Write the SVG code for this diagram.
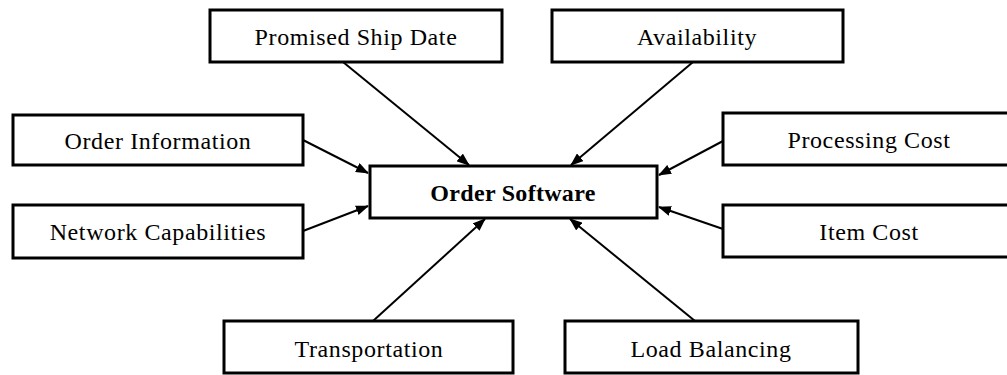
<svg xmlns="http://www.w3.org/2000/svg" width="1007" height="375" viewBox="0 0 1007 375">
<style>
.box{fill:#fff;stroke:#000;stroke-width:3}
.lbl{font-family:"Liberation Serif","Times New Roman",serif;font-size:24px;fill:#000;text-anchor:middle;letter-spacing:0.6px}
.bold{font-weight:bold;letter-spacing:0.3px}
.conn{stroke:#000;stroke-width:2;fill:none;marker-end:url(#ah)}
</style>
<defs>
<marker id="ah" markerUnits="userSpaceOnUse" markerWidth="13" markerHeight="10" refX="12" refY="5" orient="auto">
<path d="M0,0 L13,5 L0,10 z" fill="#000"/>
</marker>
</defs>
<rect width="1007" height="375" fill="#fff"/>
<g id="connectors">
<line class="conn" x1="343" y1="62" x2="469" y2="165"/>
<line class="conn" x1="693" y1="62" x2="571" y2="165"/>
<line class="conn" x1="303" y1="140" x2="368" y2="173"/>
<line class="conn" x1="303" y1="231" x2="368" y2="206"/>
<line class="conn" x1="723" y1="141" x2="659" y2="175"/>
<line class="conn" x1="723" y1="229" x2="659" y2="207"/>
<line class="conn" x1="373" y1="321" x2="485" y2="219"/>
<line class="conn" x1="695" y1="321" x2="570" y2="219"/>
</g>
<g id="promised-ship-date"><rect class="box" x="210" y="10" width="292" height="52"/><text class="lbl" x="356" y="45">Promised Ship Date</text></g>
<g id="availability"><rect class="box" x="552" y="10" width="291" height="52"/><text class="lbl" x="697" y="45">Availability</text></g>
<g id="order-information"><rect class="box" x="13" y="115" width="290" height="50"/><text class="lbl" x="158" y="149">Order Information</text></g>
<g id="network-capabilities"><rect class="box" x="13" y="205" width="290" height="53"/><text class="lbl" x="158" y="240">Network Capabilities</text></g>
<g id="order-software"><rect class="box" x="370" y="166" width="287" height="52"/><text class="lbl bold" x="513" y="201">Order Software</text></g>
<g id="processing-cost"><rect class="box" x="723" y="113" width="300" height="52"/><text class="lbl" x="869" y="148">Processing Cost</text></g>
<g id="item-cost"><rect class="box" x="723" y="205" width="300" height="52"/><text class="lbl" x="869" y="240">Item Cost</text></g>
<g id="transportation"><rect class="box" x="224" y="321" width="289" height="52"/><text class="lbl" x="369" y="357">Transportation</text></g>
<g id="load-balancing"><rect class="box" x="565" y="321" width="293" height="52"/><text class="lbl" x="711" y="357">Load Balancing</text></g>
</svg>
